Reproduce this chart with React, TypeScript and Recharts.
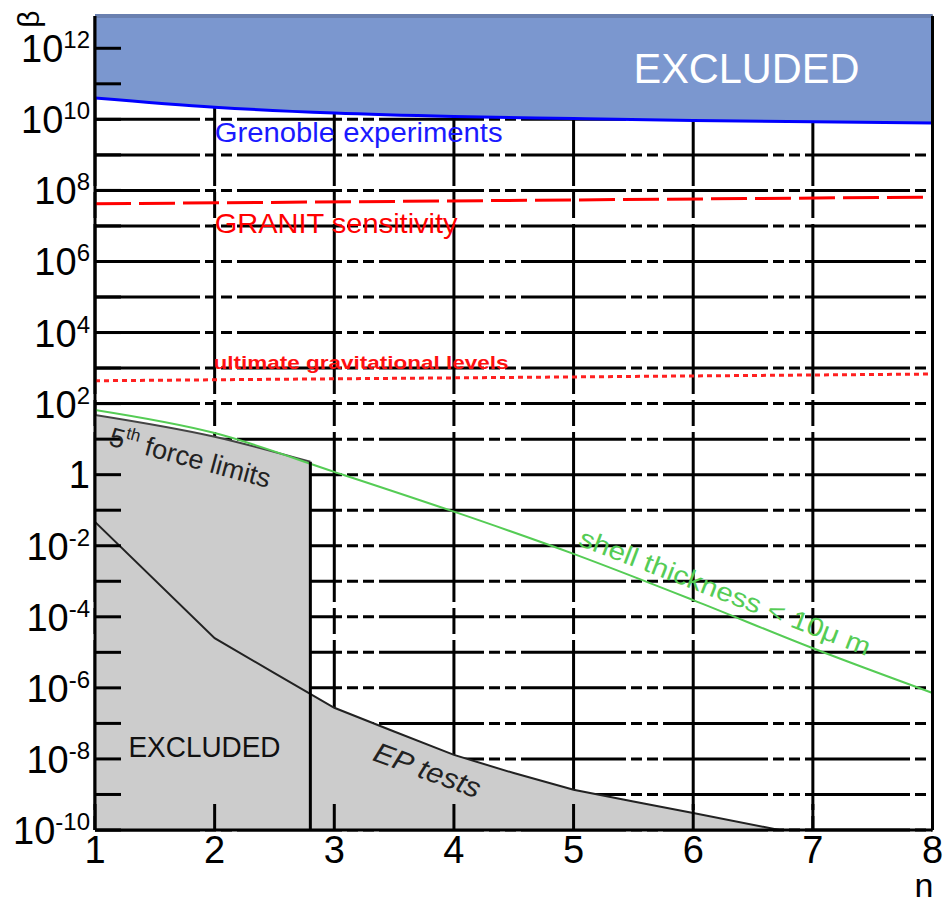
import React from "react";
import { Area, CartesianGrid, ComposedChart, Line, ReferenceDot, ReferenceLine, XAxis, YAxis } from "recharts";

const WIDTH = 947;
const HEIGHT = 903;
const MARGIN = { top: 16, right: 14.5, bottom: 73, left: 95 };
const PLOT_LEFT = MARGIN.left;
const PLOT_BOTTOM = HEIGHT - MARGIN.bottom;
const FONT = '"Liberation Sans", Arial, sans-serif';

const Y_MIN = 1e-10;
const Y_MAX = 8.1e12;

// axis ticks
const N_TICKS = [1, 2, 3, 4, 5, 6, 7, 8];
const BETA_TICKS = [
  1e-10, 1e-9, 1e-8, 1e-7, 1e-6, 1e-5, 1e-4, 1e-3, 1e-2, 1e-1, 1, 1e1, 1e2, 1e3, 1e4, 1e5, 1e6, 1e7,
  1e8, 1e9, 1e10, 1e11, 1e12,
];
const BETA_MINOR_TICKS = [
  5e-10, 5e-9, 5e-8, 5e-7, 5e-6, 5e-5, 5e-4, 5e-3, 5e-2, 5e-1, 5, 5e1, 5e2, 5e3, 5e4, 5e5, 5e6, 5e7,
  5e8, 5e9, 5e10, 5e11, 5e12,
];

// Grenoble experiments limit (excluded above)
const GRENOBLE_N = [1, 2, 3, 4, 5, 6, 7, 8];
const GRENOBLE_BETA = [4.0e10, 2.2e10, 1.5e10, 1.2e10, 1.05e10, 9.3e9, 8.5e9, 7.9e9];

// GRANIT sensitivity
const GRANIT_N = [1, 8];
const GRANIT_BETA = [4.2e7, 6.5e7];

// ultimate gravitational levels
const ULTIMATE_N = [1, 8];
const ULTIMATE_BETA = [440, 680];

// 5th force limits
const FIFTH_N = [1, 2, 2.8];
const FIFTH_BETA = [48, 11.7, 2.3];

// shell thickness < 10 um
const SHELL_N = [1, 2, 3, 4, 5, 6, 7, 8];
const SHELL_BETA = [66, 14.8, 1.2, 0.091, 5.9e-3, 2.95e-4, 1.3e-5, 7.2e-7];

// EP tests
const EP_N = [1, 2, 2.5, 3, 3.5, 4, 4.5, 5, 5.5, 6, 6.72];
const EP_BETA = [0.047, 2.5e-5, 2.6e-6, 2.75e-7, 5.9e-8, 1.3e-8, 4.0e-9, 1.35e-9, 6.3e-10, 3.0e-10, 1.0e-10];

const rows = (ns: number[], vs: number[]) => ns.map((n, i) => ({ n, beta: vs[i] }));

const grenobleData = rows(GRENOBLE_N, GRENOBLE_BETA);
const granitData = rows(GRANIT_N, GRANIT_BETA);
const ultimateData = rows(ULTIMATE_N, ULTIMATE_BETA);
const fifthData = rows(FIFTH_N, FIFTH_BETA);
const shellData = rows(SHELL_N, SHELL_BETA);
const epData = rows(EP_N, EP_BETA);
const fifthEdge = [
  { n: FIFTH_N[FIFTH_N.length - 1], beta: Y_MIN },
  { n: FIFTH_N[FIFTH_N.length - 1], beta: FIFTH_BETA[FIFTH_BETA.length - 1] },
];

function BetaTick(props: any) {
  const { y, payload } = props;
  const exp = Math.round(Math.log10(payload.value));
  if (exp % 2 !== 0) return <g />;
  if (exp === 0) {
    return (
      <text x={PLOT_LEFT - 5} y={y + 13} textAnchor="end" fontSize={38} fontFamily={FONT} fill="#000">
        1
      </text>
    );
  }
  return (
    <text x={PLOT_LEFT - 5} y={y + 14} textAnchor="end" fontSize={38} fontFamily={FONT} fill="#000">
      10
      <tspan dy={-14} fontSize={24}>
        {exp}
      </tspan>
    </text>
  );
}

function NTick(props: any) {
  const { x, payload } = props;
  return (
    <text x={x} y={PLOT_BOTTOM + 33} textAnchor="middle" fontSize={38} fontFamily={FONT} fill="#000">
      {payload.value}
    </text>
  );
}

export default function App() {
  return (
    <div style={{ position: "absolute", left: 0, top: 0, width: WIDTH, height: HEIGHT, background: "#fff" }}>
      <ComposedChart width={WIDTH} height={HEIGHT} margin={MARGIN}>
        <CartesianGrid horizontal vertical={false} stroke="#000" strokeWidth={3} strokeDasharray="105 5 11 5 11 5" />
        <CartesianGrid horizontal={false} vertical stroke="#000" strokeWidth={3} strokeDasharray="170 6 26 6" />

        <Area
          data={grenobleData}
          dataKey="beta"
          type="monotone"
          baseValue={Y_MAX}
          fill="#7b97cf"
          fillOpacity={1}
          stroke="#0000ff"
          strokeWidth={3}
          isAnimationActive={false}
        />
        <Area
          data={fifthData}
          dataKey="beta"
          type="monotone"
          baseValue={Y_MIN}
          fill="#cccccc"
          fillOpacity={1}
          stroke="#444"
          strokeWidth={2}
          isAnimationActive={false}
        />
        <Area
          data={epData}
          dataKey="beta"
          type="linear"
          baseValue={Y_MIN}
          fill="#cccccc"
          fillOpacity={1}
          stroke="#222"
          strokeWidth={2}
          isAnimationActive={false}
        />
        <Line data={shellData} dataKey="beta" type="monotone" stroke="#55cc55" strokeWidth={2} dot={false} isAnimationActive={false} />
        <Line
          data={granitData}
          dataKey="beta"
          type="linear"
          stroke="#ff0000"
          strokeWidth={3}
          strokeDasharray="36 8"
          dot={false}
          isAnimationActive={false}
        />
        <Line
          data={ultimateData}
          dataKey="beta"
          type="linear"
          stroke="#ff2020"
          strokeWidth={3}
          strokeDasharray="5 4"
          dot={false}
          isAnimationActive={false}
        />
        <Line data={fifthEdge} dataKey="beta" type="linear" stroke="#000" strokeWidth={3} dot={false} isAnimationActive={false} />

        <ReferenceLine y={Y_MAX} stroke="#6a80b0" strokeWidth={4} ifOverflow="visible" />

        <XAxis
          dataKey="n"
          type="number"
          domain={[1, 8]}
          ticks={N_TICKS}
          interval={0}
          allowDataOverflow
          mirror
          height={1}
          tickSize={26}
          tickLine={{ stroke: "#000", strokeWidth: 3 }}
          axisLine={{ stroke: "#000", strokeWidth: 3 }}
          tick={<NTick />}
        />
        <YAxis
          type="number"
          scale="log"
          domain={[Y_MIN, Y_MAX]}
          allowDataOverflow
          ticks={BETA_TICKS}
          interval={0}
          mirror
          width={1}
          tickSize={26}
          tickLine={{ stroke: "#000", strokeWidth: 3 }}
          axisLine={{ stroke: "#000", strokeWidth: 3 }}
          tick={<BetaTick />}
        />
        <YAxis
          yAxisId="minor"
          type="number"
          scale="log"
          domain={[Y_MIN, Y_MAX]}
          allowDataOverflow
          ticks={BETA_MINOR_TICKS}
          interval={0}
          mirror
          width={1}
          tickSize={15}
          tick={false}
          axisLine={false}
          tickLine={{ stroke: "#000", strokeWidth: 3 }}
        />
        <YAxis
          yAxisId="right"
          orientation="right"
          type="number"
          domain={[0, 1]}
          mirror
          width={1}
          tick={false}
          tickLine={false}
          axisLine={{ stroke: "#000", strokeWidth: 3 }}
        />

        <ReferenceDot
          x={6.445}
          y={1.05e11}
          r={0}
          ifOverflow="visible"
          shape={(p: any) => (
            <text x={p.cx} y={p.cy} textAnchor="middle" fontSize={42} fontFamily={FONT} fill="#fff" textLength={226} lengthAdjust="spacingAndGlyphs">
              EXCLUDED
            </text>
          )}
        />
        <ReferenceDot
          x={2.0}
          y={2.3e9}
          r={0}
          ifOverflow="visible"
          shape={(p: any) => (
            <text x={p.cx} y={p.cy} fontSize={27} fontFamily={FONT} fill="#1a1aff" textLength={288} lengthAdjust="spacingAndGlyphs">
              Grenoble experiments
            </text>
          )}
        />
        <ReferenceDot
          x={2.0}
          y={6.3e6}
          r={0}
          ifOverflow="visible"
          shape={(p: any) => (
            <text x={p.cx} y={p.cy} fontSize={28} fontFamily={FONT} fill="#ff0000" textLength={243} lengthAdjust="spacingAndGlyphs">
              GRANIT sensitivity
            </text>
          )}
        />
        <ReferenceDot
          x={1.99}
          y={940}
          r={0}
          ifOverflow="visible"
          shape={(p: any) => (
            <text x={p.cx} y={p.cy} fontSize={19} fontWeight="bold" fontFamily={FONT} fill="#ff1010" textLength={295} lengthAdjust="spacingAndGlyphs">
              ultimate gravitational levels
            </text>
          )}
        />
        <ReferenceDot
          x={1.107}
          y={6.8}
          r={0}
          ifOverflow="visible"
          shape={(p: any) => (
            <text x={p.cx} y={p.cy} fontSize={27} fontFamily={FONT} fill="#222" transform={`rotate(15 ${p.cx} ${p.cy})`}>
              5
              <tspan dy={-11} fontSize={17}>
                th
              </tspan>
              <tspan dy={11}> force limits</tspan>
            </text>
          )}
        />
        <ReferenceDot
          x={5.03}
          y={1.05e-2}
          r={0}
          ifOverflow="visible"
          shape={(p: any) => (
            <text
              x={p.cx}
              y={p.cy}
              fontSize={26}
              fontFamily={FONT}
              fill="#55cc55"
              transform={`rotate(21 ${p.cx} ${p.cy})`}
              textLength={310}
              lengthAdjust="spacingAndGlyphs"
            >
              shell thickness &lt; 10μ m
            </text>
          )}
        />
        <ReferenceDot
          x={1.28}
          y={1.1e-8}
          r={0}
          ifOverflow="visible"
          shape={(p: any) => (
            <text x={p.cx} y={p.cy} fontSize={29} fontFamily={FONT} fill="#111" textLength={152} lengthAdjust="spacingAndGlyphs">
              EXCLUDED
            </text>
          )}
        />
        <ReferenceDot
          x={3.31}
          y={9.3e-9}
          r={0}
          ifOverflow="visible"
          shape={(p: any) => (
            <text
              x={p.cx}
              y={p.cy}
              fontSize={28}
              fontStyle="italic"
              fontFamily={FONT}
              fill="#222"
              transform={`rotate(20 ${p.cx} ${p.cy})`}
              textLength={112}
              lengthAdjust="spacingAndGlyphs"
            >
              EP tests
            </text>
          )}
        />
      </ComposedChart>
      <svg width={WIDTH} height={HEIGHT} style={{ position: "absolute", left: 0, top: 0, pointerEvents: "none" }}>
        <text x={28} y={19} fontSize={30} fontFamily={FONT} fill="#000" textAnchor="middle" dominantBaseline="central" transform="rotate(-90 28 19)">
          β
        </text>
        <text x={924} y={897} fontSize={34} fontFamily={FONT} fill="#000" textAnchor="middle">
          n
        </text>
      </svg>
    </div>
  );
}
